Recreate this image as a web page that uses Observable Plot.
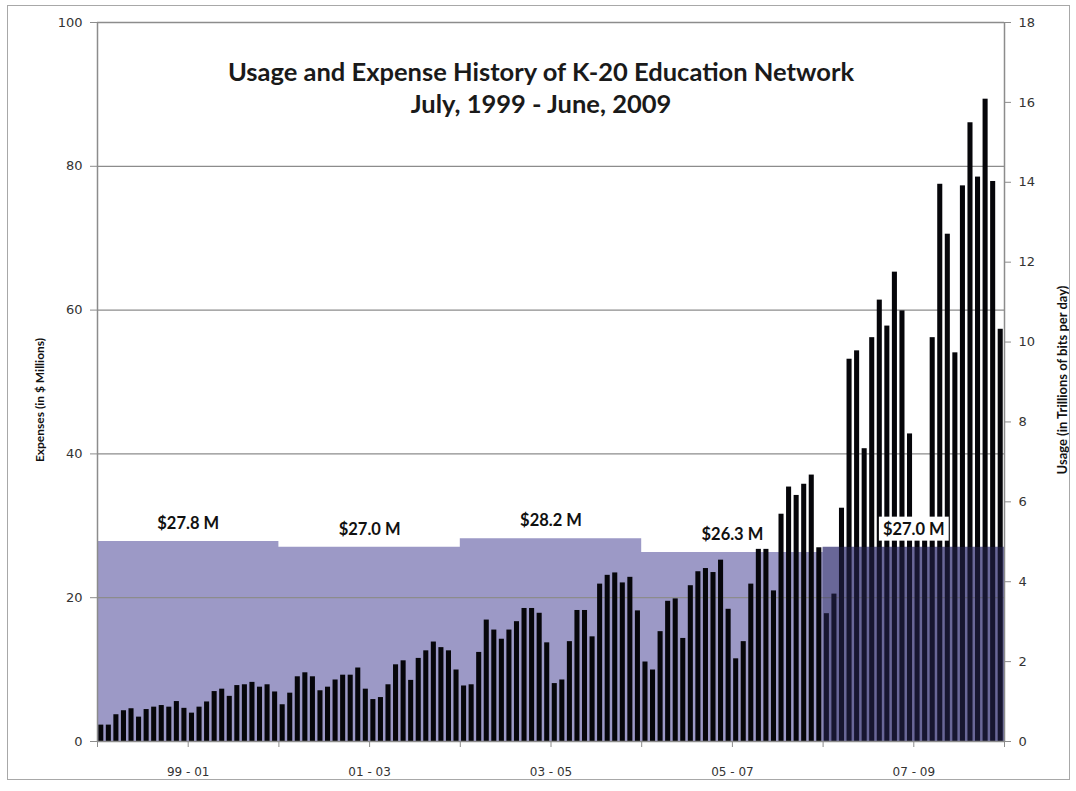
<!DOCTYPE html>
<html><head><meta charset="utf-8">
<script src="https://cdn.jsdelivr.net/npm/d3@7"></script>
<script src="https://cdn.jsdelivr.net/npm/@observablehq/plot@0.6"></script>
<style>
body{margin:0;background:#fff;}
#wrap{position:relative;width:1076px;height:791px;}
#border{position:absolute;left:7px;top:5px;width:1061px;height:773px;border:1px solid #a8a8a8;pointer-events:none;}
svg{display:block;}
</style></head><body><div id="wrap"><div id="border"></div></div>
<script>
// Monthly usage, July 1999 - June 2009 (Trillions of bits per day)
const usage = [
  0.41,0.41,0.67,0.77,0.82,0.61,0.80,0.86,0.90,0.86,1.00,0.83,
  0.71,0.86,0.99,1.25,1.31,1.13,1.40,1.42,1.48,1.36,1.42,1.24,
  0.92,1.21,1.62,1.72,1.62,1.27,1.36,1.54,1.66,1.66,1.84,1.31,
  1.05,1.10,1.42,1.92,2.02,1.53,2.08,2.27,2.49,2.35,2.27,1.79,
  1.39,1.42,2.23,3.04,2.79,2.56,2.79,3.00,3.33,3.33,3.21,2.47,
  1.45,1.54,2.50,3.28,3.28,2.62,3.94,4.16,4.22,3.97,4.11,3.27,
  1.99,1.79,2.75,3.51,3.57,2.58,3.90,4.25,4.33,4.23,4.54,3.31,
  2.07,2.50,3.94,4.81,4.81,3.77,5.69,6.37,6.16,6.44,6.67,4.85,
  3.20,3.69,5.84,9.57,9.78,7.33,10.11,11.05,10.40,11.75,10.78,7.70,
  5.40,5.40,10.11,13.95,12.70,9.73,13.91,15.49,14.13,16.08,14.02,10.32
];
// Biennium expenses ($ Millions)
const periodLabels = ["99 - 01","01 - 03","03 - 05","05 - 07","07 - 09"];
const periodExpense = [27.8, 27.0, 28.2, 26.3, 27.0];
const expenseTicks = [0,20,40,60,80,100];
const usageTicks = [0,2,4,6,8,10,12,14,16,18];
const titleLines = ["Usage and Expense History of K-20 Education Network","July, 1999 - June, 2009"];
const leftTitle = "Expenses (in $ Millions)";
const rightTitle = "Usage (in Trillions of bits per day)";

const EXP_MAX = 100, USAGE_MAX = 18, MONTHS_PER_PERIOD = 24;
const toExp = v => v * EXP_MAX / USAGE_MAX;
const months = usage.map((u, i) => ({i, u, e: toExp(u)}));
const periods = periodExpense.map((v, k) => ({
  k, v, x1: k * MONTHS_PER_PERIOD, x2: (k + 1) * MONTHS_PER_PERIOD,
  mid: (k + 0.5) * MONTHS_PER_PERIOD, label: periodLabels[k], text: `$${v.toFixed(1)} M`
}));
// step outline of the expense area
const steps = periods.map(p => ({x: p.x1, v: p.v})).concat([{x: usage.length, v: periodExpense[periodExpense.length - 1]}]);
const yearTicks = d3.range(0, usage.length + 1, 12);

const chart = Plot.plot({
  width: 1076, height: 791,
  marginLeft: 97, marginRight: 72, marginTop: 22, marginBottom: 50,
  x: {domain: [0, usage.length]},
  y: {domain: [0, EXP_MAX]},
  style: {fontFamily: "DejaVu Sans", fontSize: "12px", color: "#333", background: "transparent"},
  marks: [
    Plot.areaY(steps, {x: "x", y: "v", curve: "step-after", fill: "#9c99c6"}),
    Plot.ruleY(expenseTicks.filter(d => d > 0), {stroke: "#8c8c8c", strokeWidth: 1.3}),
    Plot.rectY(months, {x1: d => d.i, x2: d => d.i + 1, y: "e", fill: "#06060a", insetLeft: 1.25, insetRight: 1.25}),
    Plot.rectY(periods.slice(-1), {x1: "x1", x2: "x2", y: "v", fill: "#2c2a60", fillOpacity: 0.45}),
    Plot.ruleX([0, usage.length], {stroke: "#8c8c8c", strokeWidth: 1.5}),
    Plot.ruleY([0], {stroke: "#8c8c8c", strokeWidth: 1.5}),
    Plot.axisY(expenseTicks, {anchor: "left", tickSize: 7, tickPadding: 8, label: null, stroke: "#8c8c8c", fill: "#333", fontSize: 13}),
    Plot.axisY(usageTicks.map(toExp), {anchor: "right", tickSize: 6, tickPadding: 8, label: null, stroke: "#8c8c8c", fill: "#333", fontSize: 13,
      tickFormat: d => String(Math.round(d * USAGE_MAX / EXP_MAX))}),
    Plot.axisX(yearTicks, {tickSize: 6, tickFormat: () => "", label: null, stroke: "#8c8c8c"}),
    Plot.axisX(periods.map(p => p.mid), {tickSize: 0, tickPadding: 26, label: null, fill: "#333", fontSize: 12,
      tickFormat: d => periodLabels[Math.round(d / MONTHS_PER_PERIOD - 0.5)]}),
    Plot.text([leftTitle], {frameAnchor: "left", rotate: -90, textAnchor: "middle", dx: -57, dy: 18, fontFamily: "Lato", fontWeight: "bold", fontSize: 12, fill: "#111"}),
    Plot.text([rightTitle], {frameAnchor: "right", rotate: -90, textAnchor: "middle", dx: 58, dy: -2, fontFamily: "Lato", fontWeight: "bold", fontSize: 13, fill: "#111"}),
    Plot.text([titleLines.join("\n")], {frameAnchor: "top", lineAnchor: "top", dx: -10, dy: 36, lineHeight: 1.25,
      fontFamily: "Lato", fontWeight: "bold", fontSize: 25.5, fill: "#1a1a1a"}),
    Plot.text(periods, {x: "mid", y: "v", text: "text", dy: -18, fontFamily: "Lato", fontWeight: "bold", fontSize: 16.5, fill: "#111"})
  ]
});
document.getElementById("wrap").appendChild(chart);

// white box behind the last period label (as in the original)
const labels = d3.select(chart).selectAll("text").filter(function() { return this.textContent === periods[periods.length - 1].text; }).nodes();
const last = labels[labels.length - 1];
if (last) {
  const bb = last.getBBox();
  const tr = last.getAttribute("transform");
  const r = document.createElementNS("http://www.w3.org/2000/svg", "rect");
  r.setAttribute("x", bb.x - 4); r.setAttribute("y", bb.y - 2);
  r.setAttribute("width", bb.width + 8); r.setAttribute("height", bb.height + 4);
  r.setAttribute("fill", "#fff");
  if (tr) r.setAttribute("transform", tr);
  last.parentNode.insertBefore(r, last);
}
</script>
</body></html>
